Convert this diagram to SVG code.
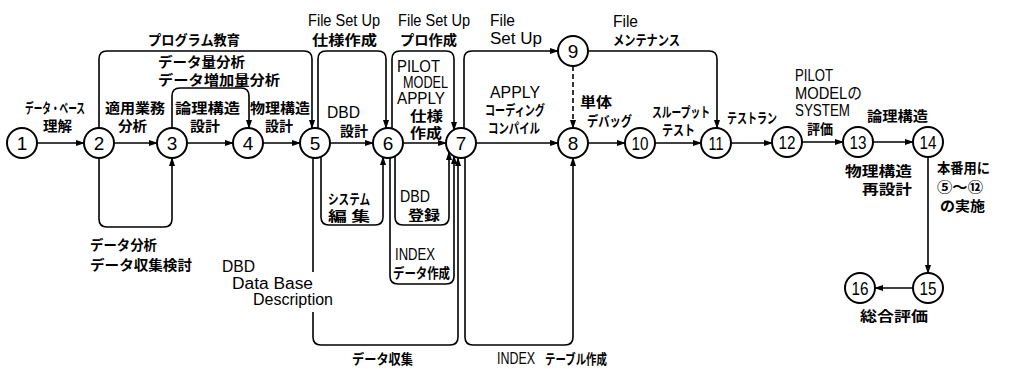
<svg xmlns="http://www.w3.org/2000/svg" width="1010" height="369" viewBox="0 0 1010 369">
<style>
.n{fill:#fff;stroke:#000;stroke-width:2}
.nt{font-family:"Liberation Sans",sans-serif;font-size:19px;text-anchor:middle;fill:#000}
.e{fill:none;stroke:#000;stroke-width:1.6}
.d{fill:none;stroke:#000;stroke-width:1.6;stroke-dasharray:5 3}
.j{font-family:"Noto Sans CJK JP","Liberation Sans",sans-serif;font-size:14px;font-weight:bold;fill:#000}
.l{font-family:"Liberation Sans","Noto Sans CJK JP",sans-serif;font-size:16px;fill:#000}
</style>
<defs>
<marker id="a" markerWidth="9" markerHeight="6" refX="8" refY="3" orient="auto" markerUnits="userSpaceOnUse"><path d="M0,0 L9,3 L0,6 z" fill="#000"/></marker>
</defs>
<g id="connectors">
<path class="e" d="M37,143 H84" marker-end="url(#a)"/>
<path class="e" d="M114,143 H157" marker-end="url(#a)"/>
<path class="e" d="M187,143 H233" marker-end="url(#a)"/>
<path class="e" d="M263,143 H300" marker-end="url(#a)"/>
<path class="e" d="M330,143 H373" marker-end="url(#a)"/>
<path class="e" d="M403,143 H446" marker-end="url(#a)"/>
<path class="e" d="M476,143 H558" marker-end="url(#a)"/>
<path class="e" d="M588,143 H625" marker-end="url(#a)"/>
<path class="e" d="M655,143 H701" marker-end="url(#a)"/>
<path class="e" d="M731,143 H772" marker-end="url(#a)"/>
<path class="e" d="M802,142 H843" marker-end="url(#a)"/>
<path class="e" d="M873,142 H913" marker-end="url(#a)"/>
<path class="e" d="M928,157 V273" marker-end="url(#a)"/>
<path class="e" d="M913,288 H875" marker-end="url(#a)"/>
<path class="d" d="M573,66 V128" marker-end="url(#a)"/>
<path class="e" d="M99,128 V59 Q99,51 107,51 H304 Q312,51 312,59 V128" marker-end="url(#a)"/>
<path class="e" d="M172,128 V96 Q172,88 180,88 H241 Q249,88 249,96 V128" marker-end="url(#a)"/>
<path class="e" d="M99,158 V219 Q99,227 107,227 H164 Q172,227 172,219 V158" marker-end="url(#a)"/>
<path class="e" d="M318,128 V59 Q318,51 326,51 H378 Q386,51 386,59 V128" marker-end="url(#a)"/>
<path class="e" d="M392,128 V59 Q392,51 400,51 H446 Q454,51 454,59 V130" marker-end="url(#a)"/>
<path class="e" d="M464,128 V59 Q464,51 472,51 H558" marker-end="url(#a)"/>
<path class="e" d="M588,51 H709 Q717,51 717,59 V128" marker-end="url(#a)"/>
<path class="e" d="M321,157 V217 Q321,225 329,225 H375 Q383,225 383,217 V157" marker-end="url(#a)"/>
<path class="e" d="M395,156 V217 Q395,225 403,225 H441 Q449,225 449,217 V152" marker-end="url(#a)"/>
<path class="e" d="M390,158 V276 Q390,284 398,284 H446 Q454,284 454,276 V156" marker-end="url(#a)"/>
<path class="e" d="M313,158 V272"/>
<path class="e" d="M313,312 V337 Q313,345 321,345 H450 Q458,345 458,337 V158" marker-end="url(#a)"/>
<path class="e" d="M465,158 V337 Q465,345 473,345 H565 Q573,345 573,337 V158" marker-end="url(#a)"/>
</g>
<g id="node1"><circle class="n" cx="22" cy="143" r="15"/><text class="nt" x="22" y="150">1</text></g>
<g id="node2"><circle class="n" cx="99" cy="143" r="15"/><text class="nt" x="99" y="150">2</text></g>
<g id="node3"><circle class="n" cx="172" cy="143" r="15"/><text class="nt" x="172" y="150">3</text></g>
<g id="node4"><circle class="n" cx="248" cy="143" r="15"/><text class="nt" x="248" y="150">4</text></g>
<g id="node5"><circle class="n" cx="315" cy="143" r="15"/><text class="nt" x="315" y="150">5</text></g>
<g id="node6"><circle class="n" cx="388" cy="143" r="15"/><text class="nt" x="388" y="150">6</text></g>
<g id="node7"><circle class="n" cx="461" cy="143" r="15"/><text class="nt" x="461" y="150">7</text></g>
<g id="node8"><circle class="n" cx="573" cy="143" r="15"/><text class="nt" x="573" y="150">8</text></g>
<g id="node9"><circle class="n" cx="573" cy="51" r="15"/><text class="nt" x="573" y="58">9</text></g>
<g id="node10"><circle class="n" cx="640" cy="143" r="15"/><text class="nt" x="640" y="150" textLength="17" lengthAdjust="spacingAndGlyphs">10</text></g>
<g id="node11"><circle class="n" cx="716" cy="143" r="15"/><text class="nt" x="716" y="150" textLength="15" lengthAdjust="spacingAndGlyphs">11</text></g>
<g id="node12"><circle class="n" cx="787" cy="142" r="15"/><text class="nt" x="787" y="149" textLength="17" lengthAdjust="spacingAndGlyphs">12</text></g>
<g id="node13"><circle class="n" cx="858" cy="142" r="15"/><text class="nt" x="858" y="149" textLength="17" lengthAdjust="spacingAndGlyphs">13</text></g>
<g id="node14"><circle class="n" cx="928" cy="142" r="15"/><text class="nt" x="928" y="149" textLength="17" lengthAdjust="spacingAndGlyphs">14</text></g>
<g id="node15"><circle class="n" cx="928" cy="288" r="15"/><text class="nt" x="928" y="295" textLength="17" lengthAdjust="spacingAndGlyphs">15</text></g>
<g id="node16"><circle class="n" cx="860" cy="288" r="15"/><text class="nt" x="860" y="295" textLength="17" lengthAdjust="spacingAndGlyphs">16</text></g>
<g id="labels">
<text class="j" x="25" y="113" textLength="60" lengthAdjust="spacingAndGlyphs">データ・ベース</text>
<text class="j" x="43" y="131" textLength="29" lengthAdjust="spacingAndGlyphs">理解</text>
<text class="j" x="105" y="113" textLength="60" lengthAdjust="spacingAndGlyphs">適用業務</text>
<text class="j" x="118" y="131" textLength="29" lengthAdjust="spacingAndGlyphs">分析</text>
<text class="j" x="175" y="113" textLength="65" lengthAdjust="spacingAndGlyphs">論理構造</text>
<text class="j" x="190" y="131" textLength="30" lengthAdjust="spacingAndGlyphs">設計</text>
<text class="j" x="250" y="113" textLength="60" lengthAdjust="spacingAndGlyphs">物理構造</text>
<text class="j" x="265" y="131" textLength="28" lengthAdjust="spacingAndGlyphs">設計</text>
<text class="j" x="148" y="45" textLength="92" lengthAdjust="spacingAndGlyphs">プログラム教育</text>
<text class="j" x="158" y="67" textLength="87" lengthAdjust="spacingAndGlyphs">データ量分析</text>
<text class="j" x="158" y="85" textLength="122" lengthAdjust="spacingAndGlyphs">データ増加量分析</text>
<text class="j" x="90" y="250" textLength="67" lengthAdjust="spacingAndGlyphs">データ分析</text>
<text class="j" x="90" y="270" textLength="102" lengthAdjust="spacingAndGlyphs">データ収集検討</text>
<text class="l" x="308" y="26" textLength="72" lengthAdjust="spacingAndGlyphs">File Set Up</text>
<text class="j" x="312" y="45" textLength="65" lengthAdjust="spacingAndGlyphs">仕様作成</text>
<text class="l" x="398" y="26" textLength="72" lengthAdjust="spacingAndGlyphs">File Set Up</text>
<text class="j" x="400" y="45" textLength="57" lengthAdjust="spacingAndGlyphs">プロ作成</text>
<text class="l" x="490" y="26" textLength="25" lengthAdjust="spacingAndGlyphs">File</text>
<text class="l" x="490" y="44" textLength="52" lengthAdjust="spacingAndGlyphs">Set Up</text>
<text class="l" x="613" y="27" textLength="25" lengthAdjust="spacingAndGlyphs">File</text>
<text class="j" x="613" y="45" textLength="67" lengthAdjust="spacingAndGlyphs">メンテナンス</text>
<text class="l" x="327" y="118" textLength="33" lengthAdjust="spacingAndGlyphs">DBD</text>
<text class="j" x="340" y="136" textLength="28" lengthAdjust="spacingAndGlyphs">設計</text>
<text class="l" x="397" y="72" textLength="43" lengthAdjust="spacingAndGlyphs">PILOT</text>
<text class="l" x="403" y="88" textLength="45" lengthAdjust="spacingAndGlyphs">MODEL</text>
<text class="l" x="397" y="104" textLength="48" lengthAdjust="spacingAndGlyphs">APPLY</text>
<text class="j" x="410" y="121" textLength="33" lengthAdjust="spacingAndGlyphs">仕様</text>
<text class="j" x="410" y="138" textLength="32" lengthAdjust="spacingAndGlyphs">作成</text>
<text class="l" x="490" y="98" textLength="50" lengthAdjust="spacingAndGlyphs">APPLY</text>
<text class="j" x="485" y="115" textLength="60" lengthAdjust="spacingAndGlyphs">コーディング</text>
<text class="j" x="488" y="133" textLength="52" lengthAdjust="spacingAndGlyphs">コンパイル</text>
<text class="j" x="580" y="107" textLength="32" lengthAdjust="spacingAndGlyphs">単体</text>
<text class="j" x="587" y="126" textLength="45" lengthAdjust="spacingAndGlyphs">デバッグ</text>
<text class="j" x="652" y="117" textLength="58" lengthAdjust="spacingAndGlyphs">スループット</text>
<text class="j" x="662" y="135" textLength="33" lengthAdjust="spacingAndGlyphs">テスト</text>
<text class="j" x="727" y="123" textLength="50" lengthAdjust="spacingAndGlyphs">テストラン</text>
<text class="l" x="795" y="81" textLength="38" lengthAdjust="spacingAndGlyphs">PILOT</text>
<text class="l" x="795" y="99" textLength="67" lengthAdjust="spacingAndGlyphs">MODELの</text>
<text class="l" x="795" y="116" textLength="55" lengthAdjust="spacingAndGlyphs">SYSTEM</text>
<text class="j" x="807" y="134" textLength="26" lengthAdjust="spacingAndGlyphs">評価</text>
<text class="j" x="867" y="121" textLength="61" lengthAdjust="spacingAndGlyphs">論理構造</text>
<text class="j" x="845" y="176" textLength="67" lengthAdjust="spacingAndGlyphs">物理構造</text>
<text class="j" x="862" y="194" textLength="50" lengthAdjust="spacingAndGlyphs">再設計</text>
<text class="j" x="937" y="173" textLength="53" lengthAdjust="spacingAndGlyphs">本番用に</text>
<text class="j" x="937" y="192" textLength="46" lengthAdjust="spacingAndGlyphs">⑤～⑫</text>
<text class="j" x="940" y="211" textLength="45" lengthAdjust="spacingAndGlyphs">の実施</text>
<text class="j" x="860" y="321" textLength="68" lengthAdjust="spacingAndGlyphs">総合評価</text>
<text class="j" x="328" y="204" textLength="42" lengthAdjust="spacingAndGlyphs">システム</text>
<text class="j" x="328" y="221" textLength="42" lengthAdjust="spacingAndGlyphs">編 集</text>
<text class="l" x="400" y="202" textLength="30" lengthAdjust="spacingAndGlyphs">DBD</text>
<text class="j" x="408" y="220" textLength="32" lengthAdjust="spacingAndGlyphs">登録</text>
<text class="l" x="395" y="260" textLength="40" lengthAdjust="spacingAndGlyphs">INDEX</text>
<text class="j" x="393" y="278" textLength="57" lengthAdjust="spacingAndGlyphs">データ作成</text>
<text class="l" x="222" y="272" textLength="33" lengthAdjust="spacingAndGlyphs">DBD</text>
<text class="l" x="232" y="289" textLength="81" lengthAdjust="spacingAndGlyphs">Data Base</text>
<text class="l" x="253" y="305" textLength="80" lengthAdjust="spacingAndGlyphs">Description</text>
<text class="j" x="352" y="364" textLength="61" lengthAdjust="spacingAndGlyphs">データ収集</text>
<text class="l" x="497" y="364" textLength="38" lengthAdjust="spacingAndGlyphs">INDEX</text>
<text class="j" x="545" y="364" textLength="62" lengthAdjust="spacingAndGlyphs">テーブル作成</text>
</g>
</svg>
